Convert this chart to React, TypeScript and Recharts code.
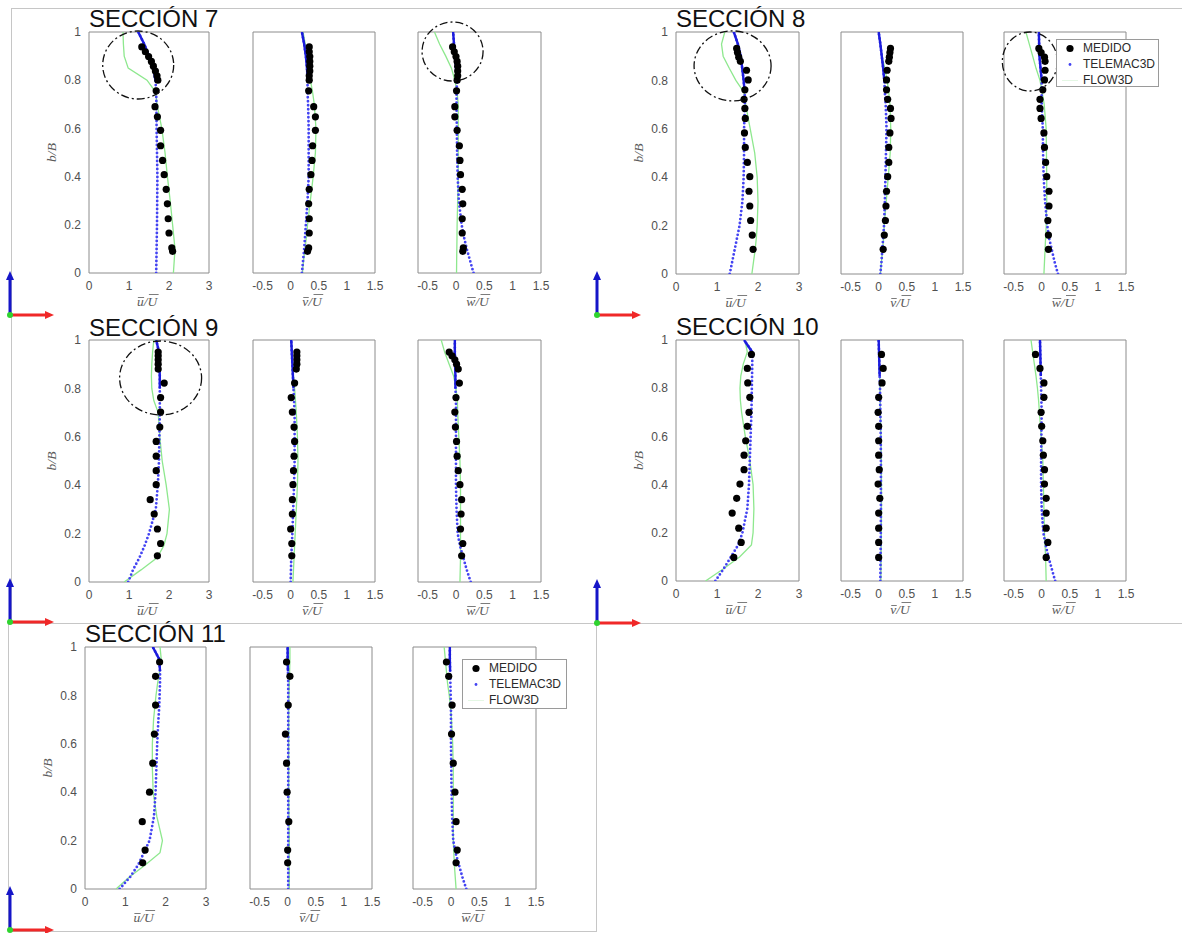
import React from 'react';
import { ScatterChart, Scatter, XAxis, YAxis, ReferenceArea, ReferenceDot, Legend } from 'recharts';

const B_MODEL = [0, 0.05, 0.1, 0.15, 0.2, 0.3, 0.4, 0.5, 0.6, 0.7, 0.75, 0.8, 0.85, 0.9, 0.95, 1];

// SECCIÓN 7
const S7_B = [0.938, 0.918, 0.898, 0.878, 0.858, 0.838, 0.818, 0.8, 0.756, 0.69, 0.648, 0.592, 0.528, 0.467, 0.408, 0.347, 0.287, 0.225, 0.166, 0.104, 0.09];
const S7_U = [1.32, 1.41, 1.49, 1.56, 1.61, 1.66, 1.7, 1.72, 1.68, 1.65, 1.71, 1.79, 1.79, 1.84, 1.88, 1.93, 1.96, 1.98, 2.0, 2.07, 2.09];
const S7_V = [0.33, 0.33, 0.34, 0.34, 0.34, 0.34, 0.33, 0.33, 0.32, 0.41, 0.44, 0.44, 0.39, 0.38, 0.36, 0.33, 0.32, 0.33, 0.33, 0.32, 0.3];
const S7_W = [-0.06, -0.03, 0.0, 0.02, 0.03, 0.03, 0.03, 0.02, 0.01, -0.02, -0.02, 0.02, 0.06, 0.07, 0.08, 0.11, 0.12, 0.11, 0.11, 0.13, 0.12];
const S7_TEL_U = [1.68, 1.685, 1.69, 1.695, 1.7, 1.705, 1.71, 1.7, 1.69, 1.685, 1.68, 1.66, 1.61, 1.5, 1.38, 1.23];
const S7_FLOW_U = [2.11, 2.13, 2.15, 2.12, 2.09, 2.03, 1.96, 1.9, 1.82, 1.7, 1.67, 1.45, 0.98, 0.88, 0.86, 0.85];
const S7_TEL_V = [0.2, 0.22, 0.24, 0.255, 0.27, 0.3, 0.32, 0.32, 0.32, 0.31, 0.3, 0.3, 0.29, 0.27, 0.24, 0.2];
const S7_FLOW_V = [0.21, 0.23, 0.255, 0.28, 0.3, 0.35, 0.4, 0.44, 0.45, 0.42, 0.39, 0.35, 0.32, 0.29, 0.26, 0.22];
const S7_TEL_W = [0.31, 0.25, 0.19, 0.14, 0.1, 0.05, 0.03, 0.02, 0.015, 0.01, 0.01, 0.02, 0.0, -0.02, -0.035, -0.05];
const S7_FLOW_W = [0.01, 0.012, 0.015, 0.018, 0.02, 0.03, 0.04, 0.04, 0.04, 0.04, 0.02, -0.02, -0.08, -0.18, -0.29, -0.38];

// SECCIÓN 8
const S8_B = [0.932, 0.915, 0.896, 0.879, 0.842, 0.802, 0.761, 0.722, 0.684, 0.643, 0.583, 0.523, 0.461, 0.402, 0.342, 0.281, 0.221, 0.161, 0.102];
const S8_U = [1.48, 1.5, 1.53, 1.57, 1.72, 1.76, 1.68, 1.66, 1.68, 1.69, 1.67, 1.69, 1.74, 1.8, 1.78, 1.8, 1.82, 1.86, 1.88];
const S8_V = [0.21, 0.2, 0.19, 0.18, 0.15, 0.14, 0.14, 0.16, 0.21, 0.22, 0.2, 0.18, 0.18, 0.16, 0.14, 0.13, 0.12, 0.1, 0.08];
const S8_W = [-0.05, -0.01, 0.05, 0.06, 0.06, 0.05, 0.02, -0.03, -0.03, -0.01, 0.04, 0.05, 0.07, 0.09, 0.13, 0.13, 0.11, 0.12, 0.12];
const S8_TEL_U = [1.31, 1.37, 1.43, 1.49, 1.55, 1.62, 1.65, 1.66, 1.66, 1.68, 1.675, 1.65, 1.615, 1.58, 1.51, 1.41];
const S8_FLOW_U = [1.85, 1.89, 1.93, 1.96, 1.98, 2.0, 1.98, 1.92, 1.81, 1.7, 1.66, 1.46, 1.3, 1.15, 1.11, 1.19];
const S8_TEL_V = [0.03, 0.05, 0.065, 0.08, 0.095, 0.11, 0.12, 0.13, 0.14, 0.125, 0.11, 0.1, 0.08, 0.055, 0.03, 0.0];
const S8_FLOW_V = [0.03, 0.05, 0.07, 0.09, 0.1, 0.135, 0.17, 0.205, 0.215, 0.2, 0.18, 0.15, 0.11, 0.06, 0.03, 0.0];
const S8_TEL_W = [0.29, 0.23, 0.18, 0.13, 0.1, 0.06, 0.035, 0.025, 0.02, 0.0, 0.0, 0.0, -0.02, -0.04, -0.045, -0.05];
const S8_FLOW_W = [0.04, 0.05, 0.06, 0.07, 0.08, 0.09, 0.09, 0.085, 0.08, 0.045, 0.01, -0.03, -0.1, -0.16, -0.22, -0.28];

// SECCIÓN 9
const S9_B = [0.95, 0.935, 0.918, 0.9, 0.88, 0.822, 0.762, 0.702, 0.64, 0.581, 0.52, 0.46, 0.402, 0.34, 0.281, 0.219, 0.159, 0.108];
const S9_U = [1.73, 1.73, 1.73, 1.73, 1.73, 1.88, 1.79, 1.79, 1.77, 1.68, 1.68, 1.68, 1.68, 1.53, 1.63, 1.71, 1.79, 1.71];
const S9_V = [0.11, 0.11, 0.11, 0.11, 0.1, 0.07, 0.01, 0.03, 0.06, 0.07, 0.06, 0.05, 0.04, 0.03, 0.03, 0.0, 0.02, 0.02];
const S9_W = [-0.12, -0.07, -0.02, 0.01, 0.04, 0.06, 0.0, -0.02, -0.01, 0.01, 0.02, 0.04, 0.07, 0.1, 0.09, 0.08, 0.12, 0.1];
const S9_TEL_U = [0.98, 1.1, 1.26, 1.39, 1.5, 1.67, 1.72, 1.75, 1.76, 1.77, 1.77, 1.77, 1.77, 1.76, 1.75, 1.68];
const S9_FLOW_U = [0.88, 1.3, 1.7, 1.87, 1.95, 2.01, 1.93, 1.83, 1.77, 1.73, 1.62, 1.57, 1.56, 1.57, 1.59, 1.62];
const S9_TEL_V = [0.0, 0.005, 0.01, 0.02, 0.03, 0.045, 0.06, 0.07, 0.07, 0.07, 0.06, 0.05, 0.04, 0.03, 0.02, 0.01];
const S9_FLOW_V = [0.04, 0.05, 0.06, 0.07, 0.08, 0.1, 0.12, 0.13, 0.12, 0.1, 0.085, 0.07, 0.05, 0.035, 0.02, 0.01];
const S9_TEL_W = [0.26, 0.19, 0.13, 0.07, 0.03, 0.01, 0.0, 0.0, 0.0, 0.0, 0.0, -0.01, -0.01, -0.015, -0.02, -0.02];
const S9_FLOW_W = [0.07, 0.075, 0.08, 0.08, 0.08, 0.08, 0.08, 0.07, 0.05, 0.03, 0.025, 0.0, -0.04, -0.12, -0.2, -0.26];

// SECCIÓN 10
const S10_B = [0.94, 0.882, 0.822, 0.762, 0.7, 0.642, 0.582, 0.522, 0.462, 0.402, 0.343, 0.282, 0.219, 0.16, 0.098];
const S10_U = [1.84, 1.74, 1.75, 1.8, 1.78, 1.74, 1.7, 1.66, 1.66, 1.56, 1.48, 1.37, 1.53, 1.59, 1.41];
const S10_V = [0.05, 0.08, 0.06, 0.0, -0.01, 0.0, 0.0, 0.0, 0.01, -0.01, 0.02, 0.0, 0.0, 0.0, 0.0];
const S10_W = [-0.11, -0.03, 0.04, 0.04, -0.01, 0.0, 0.02, 0.03, 0.05, 0.05, 0.08, 0.08, 0.08, 0.11, 0.08];
const S10_TEL_U = [0.96, 1.16, 1.34, 1.52, 1.62, 1.74, 1.78, 1.8, 1.82, 1.84, 1.845, 1.85, 1.855, 1.86, 1.86, 1.66];
const S10_FLOW_U = [0.72, 1.15, 1.55, 1.84, 1.88, 1.9, 1.88, 1.8, 1.69, 1.6, 1.57, 1.56, 1.58, 1.64, 1.74, 1.68];
const S10_TEL_V = [0.03, 0.032, 0.034, 0.036, 0.038, 0.04, 0.04, 0.04, 0.037, 0.03, 0.027, 0.024, 0.018, 0.012, 0.006, 0.0];
const S10_FLOW_V = [0.04, 0.042, 0.044, 0.046, 0.048, 0.05, 0.05, 0.048, 0.04, 0.03, 0.027, 0.023, 0.018, 0.012, 0.006, 0.0];
const S10_TEL_W = [0.24, 0.18, 0.12, 0.07, 0.03, 0.0, -0.01, -0.01, -0.005, 0.0, -0.005, -0.01, -0.015, -0.02, -0.025, -0.03];
const S10_FLOW_W = [0.08, 0.075, 0.07, 0.06, 0.05, 0.04, 0.03, 0.02, -0.01, -0.04, -0.055, -0.075, -0.1, -0.13, -0.16, -0.19];

// SECCIÓN 11
const S11_B = [0.938, 0.879, 0.76, 0.64, 0.52, 0.4, 0.278, 0.161, 0.108];
const S11_U = [1.85, 1.75, 1.75, 1.72, 1.68, 1.6, 1.42, 1.49, 1.43];
const S11_V = [-0.02, 0.04, 0.01, -0.04, -0.02, -0.01, 0.02, 0.0, 0.0];
const S11_W = [-0.08, -0.04, 0.02, 0.01, 0.04, 0.07, 0.09, 0.11, 0.09];
const S11_TEL_U = [0.86, 1.12, 1.32, 1.46, 1.6, 1.71, 1.75, 1.77, 1.79, 1.82, 1.84, 1.85, 1.86, 1.86, 1.84, 1.68];
const S11_FLOW_U = [0.77, 1.1, 1.5, 1.86, 1.92, 1.78, 1.69, 1.67, 1.67, 1.7, 1.73, 1.76, 1.8, 1.85, 1.89, 1.86];
const S11_TEL_V = [0.01, 0.01, 0.01, 0.01, 0.01, 0.01, 0.01, 0.01, 0.01, 0.01, 0.01, 0.01, 0.01, 0.005, 0.0, 0.0];
const S11_FLOW_V = [0.03, 0.03, 0.03, 0.03, 0.03, 0.025, 0.02, 0.02, 0.02, 0.02, 0.02, 0.025, 0.03, 0.035, 0.04, 0.04];
const S11_TEL_W = [0.27, 0.2, 0.14, 0.08, 0.04, 0.02, 0.01, 0.005, 0.0, 0.0, 0.0, -0.005, -0.01, -0.015, -0.02, -0.02];
const S11_FLOW_W = [0.09, 0.075, 0.06, 0.05, 0.04, 0.04, 0.04, 0.04, 0.03, 0.01, -0.01, -0.03, -0.06, -0.08, -0.1, -0.12];

const SERIES_NAMES = ['MEDIDO', 'TELEMAC3D', 'FLOW3D'];
const U_TICKS = [0, 1, 2, 3];
const VW_TICKS = [-0.5, 0, 0.5, 1, 1.5];
const B_TICKS = [0, 0.2, 0.4, 0.6, 0.8, 1];

const U_DOMAIN: [number, number] = [0, 3];
const VW_DOMAIN: [number, number] = [-0.67, 1.5];

const SANS = '"Liberation Sans", Arial, Helvetica, sans-serif';
const SERIF = '"Liberation Serif", "Times New Roman", serif';
const AXIS = '#8c8c8c';
const TICK = '#505050';
const LABEL = '#5a5a5a';
const BLUE_DOT = '#4343f2';
const BLUE = '#1c1cdc';
const GREEN = '#8ee88e';

const YW = 60;
const PAD = 12;
const XH = 44;

// italic serif advance widths (em) for the axis-label glyphs, used to place the overbars
const GLYPH_EM: Record<string, number> = { u: 0.5, v: 0.444, w: 0.667, '/': 0.278, U: 0.722 };

type Pt = { x: number; y: number };
type Ring = { x: number; y: number; rx: number; ry: number };
type Box = { left: number; top: number; width: number; height: number; markX: number };

const pts = (xs: number[], ys: number[]): Pt[] => xs.map((x, i) => ({ x, y: ys[i] }));

const LegendBox = ({ box }: { box: Box }) => (
  <div
    style={{
      position: 'relative',
      width: box.width,
      height: box.height,
      boxSizing: 'border-box',
      border: '1px solid #9a9a9a',
      background: '#fff',
      fontFamily: SANS,
      fontSize: 12,
      color: '#2a2a2a',
    }}
  >
    {SERIES_NAMES.map((name, i) => (
      <div
        key={name}
        style={{ position: 'absolute', left: 0, top: 1 + i * 16, height: 15, display: 'flex', alignItems: 'center' }}
      >
        <svg width={box.markX * 2} height={15}>
          {i === 0 && <circle cx={box.markX} cy={7.5} r={3.6} fill="#000" />}
          {i === 1 && <circle cx={box.markX} cy={7.5} r={1.4} fill={BLUE_DOT} />}
          {i === 2 && <line x1={box.markX - 8} y1={7.5} x2={box.markX + 8} y2={7.5} stroke="#e4f7e4" />}
        </svg>
        <span style={{ lineHeight: '15px' }}>{name}</span>
      </div>
    ))}
  </div>
);

interface ProfileProps {
  left: number;
  top: number;
  w: number;
  h: number;
  kind: 'u' | 'v' | 'w';
  measured: Pt[];
  telemac: Pt[];
  flow: Pt[];
  solidFrom: number;
  ring?: Ring | null;
  legendBox?: Box | null;
}

const Profile = ({ left, top, w, h, kind, measured, telemac, flow, solidFrom, ring, legendBox }: ProfileProps) => {
  const isU = kind === 'u';
  const domain = isU ? U_DOMAIN : VW_DOMAIN;
  const solid = telemac.filter((p) => p.y >= solidFrom);
  const chartLeft = left - YW;
  const chartTop = top - PAD;

  const xLabel = (props: any) => {
    const vb = props.viewBox;
    const fs = 13.5;
    const wa = GLYPH_EM[kind] * fs;
    const ws = GLYPH_EM['/'] * fs;
    const wU = GLYPH_EM.U * fs;
    const x0 = vb.x + vb.width / 2 - (wa + ws + wU) / 2 - 2;
    const base = vb.y + 33;
    return (
      <g>
        <text x={x0} y={base} fontFamily={SERIF} fontStyle="italic" fontSize={fs} fill={LABEL}>
          {`${kind}/U`}
        </text>
        <line x1={x0 + 1} y1={base - 8.5} x2={x0 + wa + 0.5} y2={base - 8.5} stroke={LABEL} strokeWidth={0.8} />
        <line x1={x0 + wa + ws + 1.5} y1={base - 11.5} x2={x0 + wa + ws + wU + 1.5} y2={base - 11.5} stroke={LABEL} strokeWidth={0.8} />
      </g>
    );
  };

  const yLabel = (props: any) => {
    const vb = props.viewBox;
    const x = vb.x + vb.width - 33;
    const y = vb.y + vb.height / 2;
    return (
      <text
        x={x}
        y={y}
        transform={`rotate(-90 ${x} ${y})`}
        textAnchor="middle"
        fontFamily={SERIF}
        fontStyle="italic"
        fontSize={13.5}
        fill={LABEL}
      >
        b/B
      </text>
    );
  };

  return (
    <div style={{ position: 'absolute', left: chartLeft, top: chartTop }}>
      <ScatterChart
        width={YW + w + PAD}
        height={PAD + h + XH}
        margin={{ top: PAD, right: PAD, bottom: 0, left: 0 }}
      >
        <XAxis
          type="number"
          dataKey="x"
          domain={domain}
          ticks={isU ? U_TICKS : VW_TICKS}
          allowDataOverflow
          interval={0}
          height={XH}
          axisLine={false}
          tickLine={false}
          tick={{ fill: TICK, fontSize: 12, fontFamily: SANS }}
          label={{ content: xLabel }}
        />
        <YAxis
          type="number"
          dataKey="y"
          domain={[0, 1]}
          ticks={B_TICKS}
          allowDataOverflow
          interval={0}
          width={YW}
          axisLine={false}
          tickLine={false}
          tick={isU ? { fill: TICK, fontSize: 12, fontFamily: SANS } : false}
          label={isU ? { content: yLabel } : undefined}
        />
        <ReferenceArea
          x1={domain[0]}
          x2={domain[1]}
          y1={0}
          y2={1}
          fill="none"
          stroke={AXIS}
          strokeWidth={1}
          ifOverflow="visible"
        />
        <Scatter
          name="FLOW3D"
          data={flow}
          fill={GREEN}
          line={{ stroke: GREEN, strokeWidth: 1.3 }}
          lineType="joint"
          shape={() => <g />}
          isAnimationActive={false}
        />
        <Scatter
          name="TELEMAC3D"
          data={telemac}
          fill={BLUE_DOT}
          line={{ stroke: BLUE_DOT, strokeWidth: 2.8, strokeDasharray: '0 4', strokeLinecap: 'round' }}
          lineType="joint"
          shape={() => <g />}
          isAnimationActive={false}
        />
        <Scatter
          name="TELEMAC3D near wall"
          data={solid}
          fill={BLUE}
          line={{ stroke: BLUE, strokeWidth: 2.4 }}
          lineType="joint"
          shape={() => <g />}
          legendType="none"
          isAnimationActive={false}
        />
        <Scatter
          name="MEDIDO"
          data={measured}
          fill="#000"
          shape={(p: any) => <circle cx={p.cx} cy={p.cy} r={3.6} fill="#000" />}
          isAnimationActive={false}
        />
        {ring && (
          <ReferenceDot
            x={ring.x}
            y={ring.y}
            r={ring.rx}
            ifOverflow="visible"
            shape={(p: any) => (
              <ellipse
                cx={p.cx}
                cy={p.cy}
                rx={ring.rx}
                ry={ring.ry}
                fill="none"
                stroke="#111"
                strokeWidth={1.3}
                strokeDasharray="8 3 2 3"
              />
            )}
          />
        )}
        {legendBox && (
          <Legend
            layout="vertical"
            align="center"
            verticalAlign="middle"
            wrapperStyle={{ left: legendBox.left - chartLeft, top: legendBox.top - chartTop, width: legendBox.width }}
            content={() => <LegendBox box={legendBox} />}
          />
        )}
      </ScatterChart>
    </div>
  );
};

interface Section {
  title: string;
  titleX: number;
  titleY: number;
  top: number;
  h: number;
  cols: [number, number][];
  b: number[];
  meas: number[][];
  tel: number[][];
  flow: number[][];
  solidFrom: number[];
  rings: (Ring | null)[];
  legend: (Box | null)[];
  icon: [number, number];
}

const RING_7U: Ring = { x: 1.23, y: 0.863, rx: 35.5, ry: 34 };
const RING_7W: Ring = { x: -0.06, y: 0.919, rx: 30.5, ry: 29.5 };
const RING_8U: Ring = { x: 1.38, y: 0.86, rx: 38.5, ry: 35 };
const RING_8W: Ring = { x: -0.21, y: 0.878, rx: 27.5, ry: 29.5 };
const RING_9U: Ring = { x: 1.79, y: 0.843, rx: 41, ry: 37 };

const LEGEND_8: Box = { left: 1056, top: 39, width: 103, height: 48, markX: 13 };
const LEGEND_11: Box = { left: 462, top: 659, width: 105, height: 50, markX: 13 };

const LEFT_COLS: [number, number][] = [[89, 120], [253, 122], [418, 123]];
const RIGHT_COLS: [number, number][] = [[676, 123], [841, 122], [1004, 122]];
const BOTTOM_COLS: [number, number][] = [[85, 121], [250, 122], [413, 123]];

const SECTIONS: Section[] = [
  {
    title: 'SECCIÓN 7', titleX: 89, titleY: 27, top: 32, h: 241, cols: LEFT_COLS,
    b: S7_B, meas: [S7_U, S7_V, S7_W], tel: [S7_TEL_U, S7_TEL_V, S7_TEL_W], flow: [S7_FLOW_U, S7_FLOW_V, S7_FLOW_W],
    solidFrom: [0.76, 0.78, 0.78], rings: [RING_7U, null, RING_7W], legend: [null, null, null], icon: [10, 315],
  },
  {
    title: 'SECCIÓN 8', titleX: 676, titleY: 27, top: 32, h: 242, cols: RIGHT_COLS,
    b: S8_B, meas: [S8_U, S8_V, S8_W], tel: [S8_TEL_U, S8_TEL_V, S8_TEL_W], flow: [S8_FLOW_U, S8_FLOW_V, S8_FLOW_W],
    solidFrom: [0.74, 0.78, 0.78], rings: [RING_8U, null, RING_8W], legend: [null, null, LEGEND_8], icon: [597, 315],
  },
  {
    title: 'SECCIÓN 9', titleX: 89, titleY: 336, top: 340, h: 242, cols: LEFT_COLS,
    b: S9_B, meas: [S9_U, S9_V, S9_W], tel: [S9_TEL_U, S9_TEL_V, S9_TEL_W], flow: [S9_FLOW_U, S9_FLOW_V, S9_FLOW_W],
    solidFrom: [0.8, 0.78, 0.8], rings: [RING_9U, null, null], legend: [null, null, null], icon: [10, 622],
  },
  {
    title: 'SECCIÓN 10', titleX: 676, titleY: 335, top: 340, h: 241, cols: RIGHT_COLS,
    b: S10_B, meas: [S10_U, S10_V, S10_W], tel: [S10_TEL_U, S10_TEL_V, S10_TEL_W], flow: [S10_FLOW_U, S10_FLOW_V, S10_FLOW_W],
    solidFrom: [0.94, 0.85, 0.85], rings: [null, null, null], legend: [null, null, null], icon: [597, 623],
  },
  {
    title: 'SECCIÓN 11', titleX: 85, titleY: 642, top: 647, h: 242, cols: BOTTOM_COLS,
    b: S11_B, meas: [S11_U, S11_V, S11_W], tel: [S11_TEL_U, S11_TEL_V, S11_TEL_W], flow: [S11_FLOW_U, S11_FLOW_V, S11_FLOW_W],
    solidFrom: [0.9, 0.9, 0.9], rings: [null, null, null], legend: [null, null, LEGEND_11], icon: [10, 930],
  },
];

const KINDS: ('u' | 'v' | 'w')[] = ['u', 'v', 'w'];

const AxisIcon = ({ x, y }: { x: number; y: number }) => (
  <g>
    <line x1={x} y1={y} x2={x} y2={y - 36} stroke="#1515c8" strokeWidth={3} />
    <polygon points={`${x - 4},${y - 35} ${x + 4},${y - 35} ${x},${y - 44}`} fill="#1515c8" />
    <line x1={x} y1={y} x2={x + 36} y2={y} stroke="#f02828" strokeWidth={3} />
    <polygon points={`${x + 35},${y - 4} ${x + 35},${y + 4} ${x + 44},${y}`} fill="#f02828" />
    <circle cx={x} cy={y} r={3} fill="#2fd42f" />
  </g>
);

const Frame = () => (
  <svg width={1182} height={933} style={{ position: 'absolute', left: 0, top: 0 }}>
    <g stroke="#c6c6c6" strokeWidth={1} fill="none">
      <line x1={11} y1={8.5} x2={1182} y2={8.5} />
      <line x1={11.5} y1={8} x2={11.5} y2={623} />
      <line x1={8.5} y1={623} x2={8.5} y2={931} />
      <line x1={8} y1={623.5} x2={1182} y2={623.5} />
      <line x1={596.5} y1={623} x2={596.5} y2={931} />
      <line x1={8} y1={931.5} x2={597} y2={931.5} />
    </g>
    {SECTIONS.map((s) => (
      <text key={s.title} x={s.titleX} y={s.titleY} fontFamily={SANS} fontSize={24} fill="#111">
        {s.title}
      </text>
    ))}
    {SECTIONS.map((s) => (
      <AxisIcon key={`icon-${s.title}`} x={s.icon[0]} y={s.icon[1]} />
    ))}
  </svg>
);

export default function App() {
  return (
    <div style={{ position: 'absolute', left: 0, top: 0, width: 1182, height: 933, background: '#fff', overflow: 'hidden' }}>
      <Frame />
      {SECTIONS.map((s) =>
        KINDS.map((kind, i) => (
          <Profile
            key={`${s.title}-${kind}`}
            left={s.cols[i][0]}
            top={s.top}
            w={s.cols[i][1]}
            h={s.h}
            kind={kind}
            measured={pts(s.meas[i], s.b)}
            telemac={pts(s.tel[i], B_MODEL)}
            flow={pts(s.flow[i], B_MODEL)}
            solidFrom={s.solidFrom[i]}
            ring={s.rings[i]}
            legendBox={s.legend[i]}
          />
        ))
      )}
    </div>
  );
}
